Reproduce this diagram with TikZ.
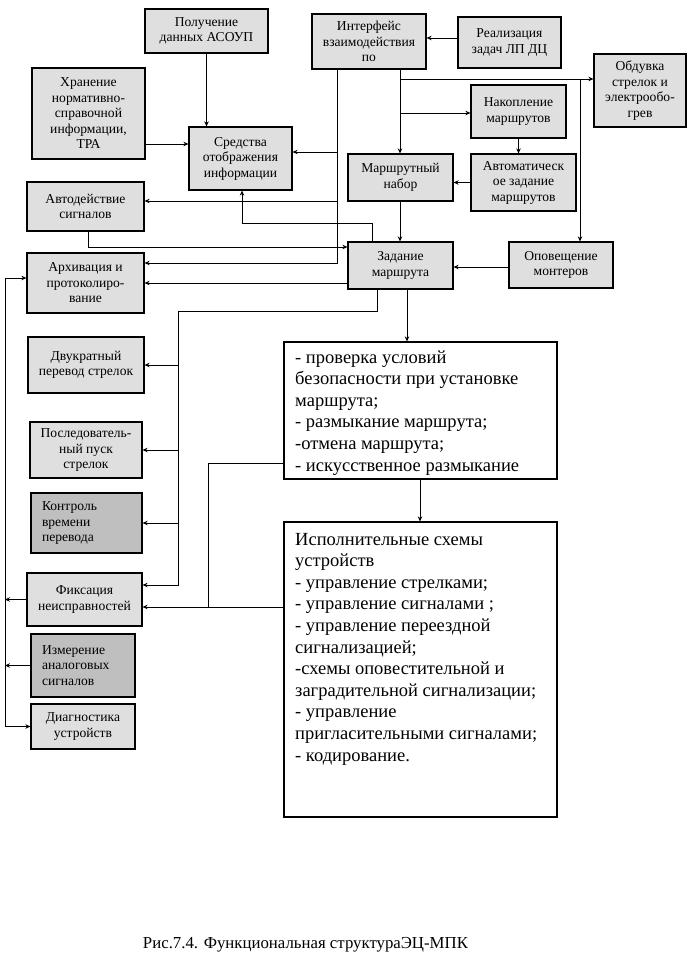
\documentclass[tikz,border=0pt]{standalone}
\usepackage{fontspec}
\setmainfont{Liberation Serif}
\usetikzlibrary{arrows.meta}
\tikzset{
  box/.style={draw=black, line width=1.2pt, fill=gray!25, align=center, inner sep=2pt,
    font=\fontsize{13.6}{15.5}\selectfont},
  darkbox/.style={box, fill=gray!50, align=left},
  bigbox/.style={draw=black, line width=1.2pt, fill=white},
  conn/.style={line width=1pt, -{Stealth[length=5pt,width=4.5pt]}},
  plain/.style={line width=1pt},
  bigtext/.style={anchor=base west, inner sep=0pt, font=\fontsize{18.5}{21.6}\selectfont},
}
\begin{document}
\begin{tikzpicture}[x=1pt,y=-1pt]
\useasboundingbox[fill=white] (0,0) rectangle (690,970);

% boxes
\node[box, minimum width=123, minimum height=44] (asoup) at (206.5,31) {Получение\\данных АСОУП};
\node[box, minimum width=113, minimum height=91] (hran) at (88.5,113.5) {Хранение\\нормативно-\\справочной\\информации,\\ТРА};
\node[box, minimum width=103, minimum height=63] (sred) at (240.5,158.5) {Средства\\отображения\\информации};
\node[box, minimum width=117, minimum height=49] (avto) at (85.5,206.5) {Автодействие\\сигналов};
\node[box, minimum width=117, minimum height=60] (arch) at (85.5,283) {Архивация и\\протоколиро-\\вание};
\node[box, minimum width=114, minimum height=55] (intf) at (369,41.5) {Интерфейс\\взаимодействия\\по};
\node[box, minimum width=103, minimum height=51] (real) at (509.5,42.5) {Реализация\\задач ЛП ДЦ};
\node[box, minimum width=92, minimum height=73] (obd) at (640,90.5) {Обдувка\\стрелок и\\электрообо-\\грев};
\node[box, minimum width=95, minimum height=53] (nak) at (518.5,111.5) {Накопление\\маршрутов};
\node[box, minimum width=105, minimum height=47] (mnab) at (400.5,177.5) {Маршрутный\\набор};
\node[box, minimum width=105, minimum height=57] (azad) at (523.5,182.5) {Автоматическ\\ое задание\\маршрутов};
\node[box, minimum width=105, minimum height=47] (zad) at (400.5,265.5) {Задание\\маршрута};
\node[box, minimum width=104, minimum height=46] (opov) at (561,265) {Оповещение\\монтеров};
\node[box, minimum width=116, minimum height=56] (dvuk) at (86,365) {Двукратный\\перевод стрелок};
\node[box, minimum width=112, minimum height=56] (posl) at (86,450) {Последователь-\\ный пуск\\стрелок};
\node[darkbox, minimum width=111, minimum height=60, text width=89pt] (kontr) at (86.5,523) {Контроль\\времени\\перевода};
\node[box, minimum width=115, minimum height=53] (fiks) at (84.5,599.5) {Фиксация\\неисправностей};
\node[darkbox, minimum width=104, minimum height=63, text width=82pt] (izm) at (83,665.5) {Измерение\\аналоговых\\сигналов};
\node[box, minimum width=104, minimum height=45] (diag) at (83,726.5) {Диагностика\\устройств};
\node[bigbox, minimum width=273, minimum height=137] (check) at (420.5,410.5) {};
\node[bigbox, minimum width=273, minimum height=295] (isp) at (420.5,669.5) {};

\node[bigtext] (checktxt) at (295,363) {\parbox[t]{258pt}{\raggedright
- проверка условий\\
безопасности при установке\\
маршрута;\\
- размыкание маршрута;\\
-отмена маршрута;\\
- искусственное размыкание}};
\node[bigtext] (isptxt) at (295,545) {\parbox[t]{258pt}{\raggedright
Исполнительные схемы\\
устройств\\
- управление стрелками;\\
- управление сигналами ;\\
- управление переездной\\
сигнализацией;\\
-схемы оповестительной и\\
заградительной сигнализации;\\
- управление\\
пригласительными сигналами;\\
- кодирование.}};

\node[font=\fontsize{16.8}{19}\selectfont] (cap) at (305.5,945) {Рис.7.4. Функциональная структураЭЦ-МПК};

% helper coordinates
\coordinate (x5) at (5,0);
\coordinate (x88) at (88,0);
\coordinate (x178) at (178,0);
\coordinate (x208) at (208,0);
\coordinate (x242) at (242,0);
\coordinate (x337) at (337,0);
\coordinate (x372) at (372,0);
\coordinate (x377) at (377,0);
\coordinate (x400) at (400,0);
\coordinate (x407) at (407,0);
\coordinate (x420) at (420,0);
\coordinate (x580) at (580,0);
\coordinate (y38) at (0,38);
\coordinate (y79) at (0,79);
\coordinate (y113) at (0,113);
\coordinate (y144) at (0,144);
\coordinate (y152) at (0,152);
\coordinate (y201) at (0,201);
\coordinate (y223) at (0,223);
\coordinate (y247) at (0,247);
\coordinate (y263) at (0,263);
\coordinate (y267) at (0,267);
\coordinate (y278) at (0,278);
\coordinate (y311) at (0,311);
\coordinate (y463) at (0,463);
\coordinate (y585) at (0,585);
\coordinate (y607) at (0,607);

% connectors
\draw[conn] (asoup.south) -- (asoup.south |- sred.north);
\draw[conn] (hran.east |- y144) -- (sred.west |- y144);
\draw[conn] (real.west |- y38) -- (intf.east |- y38);
\draw[conn] (intf.south -| x337) -- (x337 |- y263) -- (arch.east |- y263);
\draw[conn] (x337 |- y152) -- (sred.east |- y152);
\draw[conn] (x337 |- y201) -- (avto.east |- y201);
\draw[conn] (intf.south -| x400) -- (mnab.north -| x400);
\draw[conn] (x400 |- y79) -- (obd.west |- y79);
\draw[conn] (x400 |- y113) -- (nak.west |- y113);
\draw[conn] (x580 |- y79) -- (opov.north -| x580);
\draw[conn] (nak.south) -- (nak.south |- azad.north);
\draw[conn] (azad.west) -- (mnab.east |- azad.west);
\draw[conn] (mnab.south -| x400) -- (zad.north -| x400);
\draw[conn] (opov.west |- y267) -- (zad.east |- y267);
\draw[conn] (avto.south -| x88) |- (zad.west |- y247);
\draw[conn] (zad.west |- arch.east) -- (arch.east);
\draw[conn] (zad.north -| x372) |- (x242 |- y223) -- (sred.south -| x242);
\draw[conn] (zad.south -| x377) |- (x178 |- y311) |- (fiks.east |- y585);
\draw[conn] (x178 |- dvuk.east) -- (dvuk.east);
\draw[conn] (x178 |- posl.east) -- (posl.east);
\draw[conn] (x178 |- kontr.east) -- (kontr.east);
\draw[conn] (zad.south -| x407) -- (check.north -| x407);
\draw[conn] (check.south -| x420) -- (isp.north -| x420);
\draw[plain] (check.west |- y463) -| (x208 |- y607);
\draw[conn] (isp.west |- y607) -- (fiks.east |- y607);
\draw[line width=1pt, {Stealth[length=5pt,width=4.5pt]}-{Stealth[length=5pt,width=4.5pt]}] (arch.west |- y278) -| (x5 |- diag.west) -- (diag.west);
\draw[conn] (fiks.west) -- (x5 |- fiks.west);
\draw[conn] (izm.west) -- (x5 |- izm.west);
\end{tikzpicture}
\end{document}
